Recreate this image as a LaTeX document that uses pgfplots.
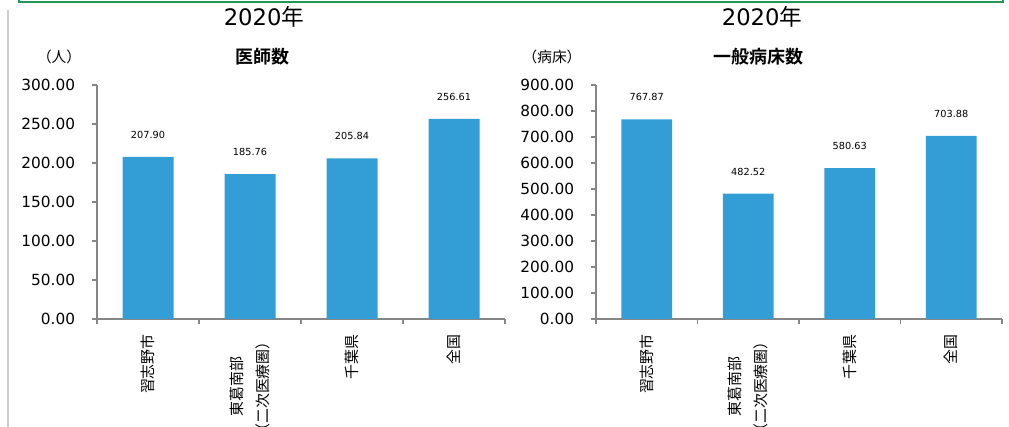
\documentclass[border=0pt]{standalone}
\usepackage{fontspec}
\setmainfont{DejaVu Sans}
\newfontfamily\cjk{Noto Sans CJK JP}[BoldFont={Noto Sans CJK JP Bold}]
\usepackage{pgfplots}
\pgfplotsset{compat=1.18}
\definecolor{barblue}{RGB}{50,158,213}
\definecolor{axgrey}{RGB}{134,134,134}
\definecolor{frgreen}{RGB}{36,150,90}
\definecolor{edgegrey}{RGB}{205,205,205}
\pgfplotsset{mystyle/.style={
  scale only axis, height=175.5pt,
  anchor=south west,
  axis x line*=bottom, axis y line*=left,
  axis line style={-, draw=axgrey, line width=0.9pt},
  tick align=outside, major tick length=3.75pt,
  tick style={draw=axgrey, line width=0.9pt},
  ymin=0, xmin=-0.5, xmax=3.5,
  xtick={-0.5,0.5,1.5,2.5,3.5},
  x tick label as interval,
  xticklabels={習志野市, {東葛南部\\（二次医療圏）}, 千葉県, 全国},
  xticklabel style={font=\cjk\fontsize{11.2}{19.5}\selectfont, rotate=90, anchor=east, align=center, inner sep=0pt},
  xticklabel shift=7.5pt,
  yticklabel style={font=\fontsize{11.5}{13}\selectfont, anchor=east, inner sep=0pt,
    /pgf/number format/.cd, fixed, fixed zerofill, precision=2, assume math mode=true},
  yticklabel shift=12.5pt,
  ybar, bar width=0.5,
  nodes near coords={\pgfmathprintnumber[fixed,fixed zerofill,precision=2,assume math mode=true]{\pgfplotspointmeta}},
  every node near coord/.append style={font=\fontsize{7.3}{8}\selectfont, anchor=center, yshift=16.5pt, text=black},
}}
\begin{document}
\begin{tikzpicture}
\path[use as bounding box] (0,0) rectangle (756.75pt,320.25pt);
% frame remnants
\draw[frgreen, line width=1.5pt] (14.25pt,321pt) -- (14.25pt,318.75pt) -- (752.25pt,318.75pt) -- (752.25pt,321pt);
\draw[edgegrey, line width=1.5pt] (6pt,0pt) -- (6pt,313pt);
% titles
\node at (198pt,307.5pt) {\fontsize{17}{20}\selectfont 2020{\cjk 年}};
\node at (571.5pt,307.5pt) {\fontsize{17}{20}\selectfont 2020{\cjk 年}};
\node at (196.5pt,277.5pt) {\cjk\bfseries\fontsize{13.5}{15}\selectfont 医師数};
\node at (568.5pt,277.5pt) {\cjk\bfseries\fontsize{13.5}{15}\selectfont 一般病床数};
\node at (44.25pt,277.5pt) {\cjk\fontsize{11}{13}\selectfont （人）};
\node at (414pt,277.5pt) {\cjk\fontsize{11}{13}\selectfont （病床）};
\begin{axis}[mystyle, at={(72.75pt,81pt)}, width=306pt, ymax=300, ytick={0,50,...,300}]
\addplot[fill=barblue, draw=none] coordinates {(0,207.90) (1,185.76) (2,205.84) (3,256.61)};
\end{axis}
\begin{axis}[mystyle, at={(447pt,81pt)}, width=304.5pt, ymax=900, ytick={0,100,...,900}]
\addplot[fill=barblue, draw=none] coordinates {(0,767.87) (1,482.52) (2,580.63) (3,703.88)};
\end{axis}
\end{tikzpicture}
\end{document}
